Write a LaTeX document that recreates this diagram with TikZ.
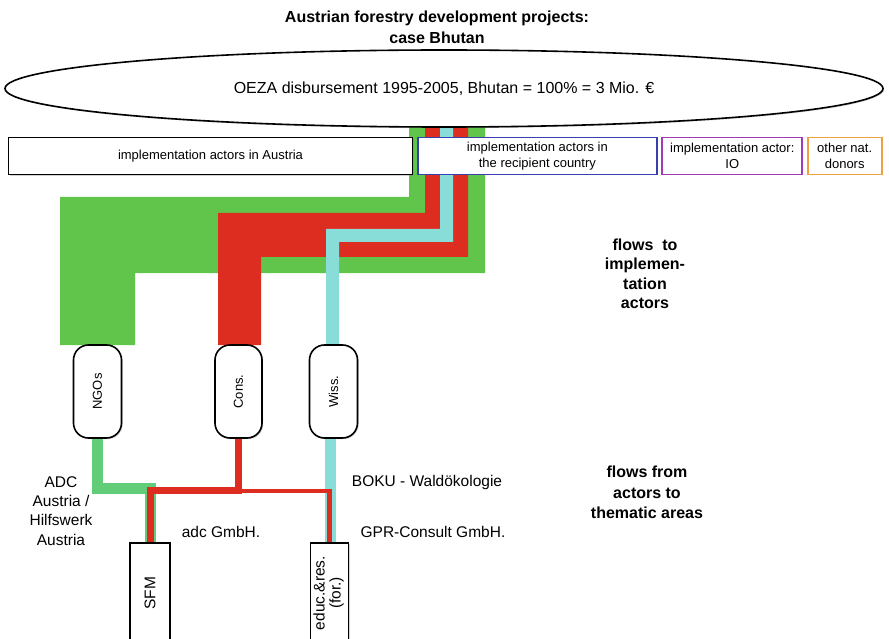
\documentclass[tikz,border=0pt]{standalone}
\usepackage{fontspec}
\setmainfont{Liberation Sans}
\usetikzlibrary{positioning,shapes.geometric,shadows}
\definecolor{flowgreen}{HTML}{60C54A}
\definecolor{flowred}{HTML}{DD2C20}
\definecolor{flowcyan}{HTML}{88DDD8}
\definecolor{lowgreen}{HTML}{62CD78}
\definecolor{recblue}{HTML}{3A3FB0}
\definecolor{iopurple}{HTML}{A23AB5}
\definecolor{donorange}{HTML}{F0A03C}
\newcommand{\vlabel}[1]{\rotatebox{90}{#1}}
\tikzset{
  boxshadow/.style={drop shadow={shadow xshift=1.2pt,shadow yshift=-1.2pt,opacity=.35}},
  oval/.style={ellipse,draw=black,line width=1.6pt,fill=white,inner sep=0pt,boxshadow,
    font=\fontsize{16}{19}\selectfont},
  actbox/.style={rectangle,draw=black,line width=1.9pt,fill=white,minimum height=37,
    inner sep=1pt,align=center,font=\fontsize{13}{16.5}\selectfont},
  actnode/.style={rectangle,draw=black,line width=1.6pt,fill=white,rounded corners=15pt,
    minimum width=48,minimum height=93,inner sep=0pt,boxshadow,font=\fontsize{13}{15}\selectfont},
  areabox/.style={rectangle,draw=black,line width=1.3pt,fill=white,minimum height=100,
    inner sep=0pt,boxshadow,font=\fontsize{15.5}{16}\selectfont},
  headtext/.style={align=center,font=\bfseries\fontsize{16}{19.5}\selectfont},
  nametext/.style={align=center,font=\fontsize{15.5}{19.3}\selectfont},
  lowgreenflow/.style={draw=lowgreen,line width=11pt},
  lowredflow/.style={draw=flowred,line width=7pt},
  lowcyanflow/.style={draw=flowcyan,line width=11pt},
}
\begin{document}
\begin{tikzpicture}[x=1pt,y=-1pt]
  \useasboundingbox (0,0) rectangle (889,639);
  \clip (0,0) rectangle (889,639);
  \fill[flowgreen] (409,120) -- (409,197) -- (60,197) -- (60,345) -- (135,345)
    -- (135,273) -- (485,273) -- (485,120) -- cycle;
  \fill[flowred] (425,120) -- (425,213) -- (218,213) -- (218,345) -- (261,345)
    -- (261,257) -- (468,257) -- (468,120) -- cycle;
  \fill[flowcyan] (440,120) -- (440,229) -- (326,229) -- (326,345) -- (339,345)
    -- (339,242) -- (453,242) -- (453,120) -- cycle;
  \node[headtext,font=\bfseries\fontsize{16}{21}\selectfont] (title) at (437,27)
    {Austrian forestry development projects:\\case Bhutan};
  \node[oval,minimum width=878,minimum height=77] (oeza) at (444,88.5)
    {OEZA disbursement 1995-2005, Bhutan = 100\% = 3 Mio. €};
  \node[actbox,minimum width=404,boxshadow] (austria) at (210.5,156)
    {implementation actors in Austria};
  \node[actbox,draw=recblue,minimum width=239,right=3.5pt of austria] (recip)
    {implementation actors in\\the recipient country};
  \node[actbox,draw=iopurple,minimum width=140,right=3.5pt of recip] (io)
    {implementation actor:\\IO};
  \node[actbox,draw=donorange,minimum width=74,right=3.5pt of io] (donors)
    {other nat.\\donors};
  \node[actnode] (ngos) at (97.5,391.5) {\vlabel{NGOs}};
  \node[actnode,minimum width=47] (cons) at (238.5,391.5) {\vlabel{Cons.}};
  \node[actnode] (wiss) at (333.5,391.5) {\vlabel{Wiss.}};
  \node[areabox,minimum width=40] (sfm) at (150,593) {\vlabel{SFM}};
  \node[areabox,minimum width=38] (educ) at (329.5,593)
    {\vlabel{\begin{tabular}{@{}c@{}}educ.\&res.\\(for.)\end{tabular}}};
  \draw[lowgreenflow] (ngos.south) -- ++(0,50) -| (sfm.north);
  \draw[lowcyanflow] ([xshift=1pt]educ.north |- wiss.south) -- ([xshift=1pt]educ.north);
  \draw[lowredflow] (cons.south) -- ++(0,52) coordinate (rjoin) -| (sfm.north);
  \draw[lowredflow,line width=4.5pt] (rjoin) -| (educ.north);
  \node[headtext] (flowsto) at (645,274) {flows\ \ to\\implemen-\\tation\\actors};
  \node[headtext,font=\bfseries\fontsize{16}{20.5}\selectfont] (flowsfrom) at (647,492.5)
    {flows from\\actors to\\thematic areas};
  \node[nametext] (adc) at (61,511) {ADC\\Austria /\\Hilfswerk\\Austria};
  \node[nametext] (adcgmbh) at (221,532) {adc GmbH.};
  \node[nametext] (boku) at (427,482) {BOKU - Waldökologie};
  \node[nametext] (gpr) at (433,532) {GPR-Consult GmbH.};
\end{tikzpicture}
\end{document}
